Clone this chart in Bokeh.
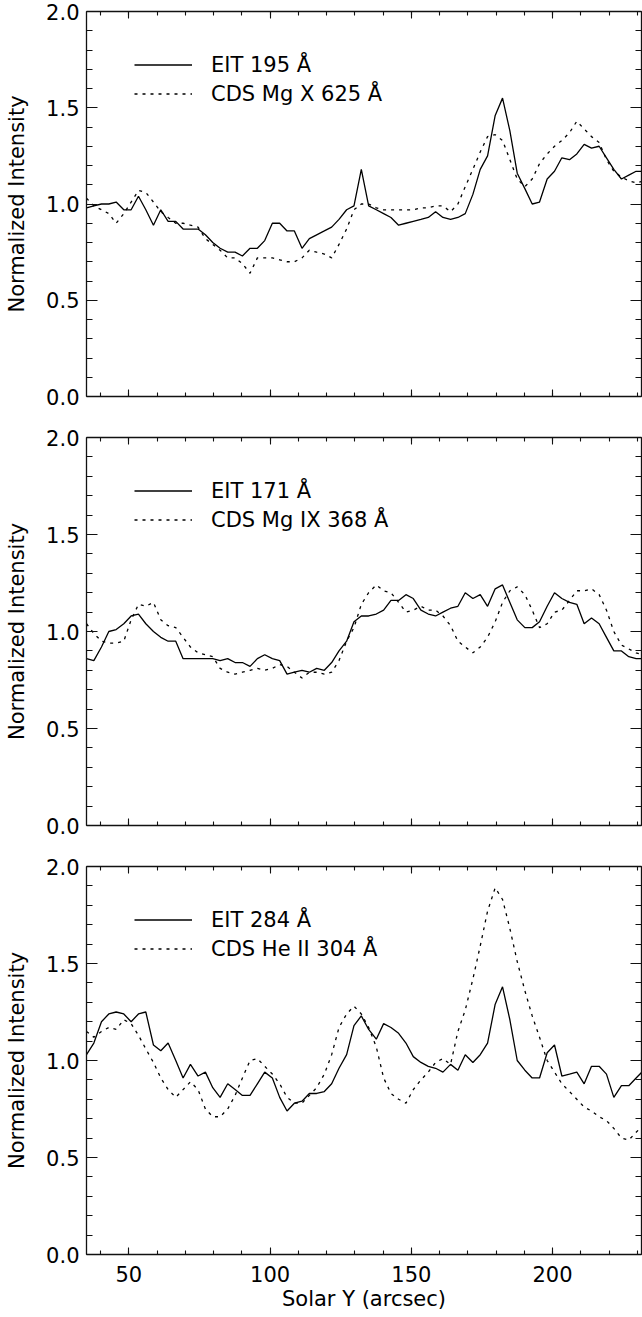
from bokeh.plotting import figure
from bokeh.layouts import column
from bokeh.models import (Range1d, LinearAxis, SingleIntervalTicker, PrintfTickFormatter,
                          Legend, LegendItem)
from bokeh.embed import file_html
from bokeh.resources import INLINE

# Solar Y positions of the cut (arcsec), one per EIT pixel
solar_y = [35.0, 37.6, 40.3, 42.9, 45.5, 48.2, 50.8, 53.4, 56.0, 58.7,
           61.3, 63.9, 66.6, 69.2, 71.8, 74.5, 77.1, 79.7, 82.3, 85.0,
           87.6, 90.2, 92.9, 95.5, 98.1, 100.8, 103.4, 106.0, 108.6, 111.3,
           113.9, 116.5, 119.2, 121.8, 124.4, 127.1, 129.7, 132.3, 134.9, 137.6,
           140.2, 142.8, 145.5, 148.1, 150.7, 153.4, 156.0, 158.6, 161.2, 163.9,
           166.5, 169.1, 171.8, 174.4, 177.0, 179.7, 182.3, 184.9, 187.5, 190.2,
           192.8, 195.4, 198.1, 200.7, 203.3, 206.0, 208.6, 211.2, 213.8, 216.5,
           219.1, 221.7, 224.4, 227.0, 229.6, 232.3]

# Panel 1: EIT 195 vs CDS Mg X 625
eit_195 = [0.98, 0.99, 1.00, 1.00, 1.01, 0.97, 0.97, 1.04, 0.97, 0.89,
           0.97, 0.91, 0.91, 0.87, 0.87, 0.87, 0.84, 0.80, 0.77, 0.75,
           0.75, 0.73, 0.77, 0.77, 0.81, 0.90, 0.90, 0.86, 0.86, 0.77,
           0.82, 0.84, 0.86, 0.88, 0.92, 0.97, 0.99, 1.18, 0.99, 0.97,
           0.95, 0.93, 0.89, 0.90, 0.91, 0.92, 0.93, 0.96, 0.93, 0.92,
           0.93, 0.95, 1.05, 1.18, 1.25, 1.46, 1.55, 1.38, 1.16, 1.08,
           1.00, 1.01, 1.13, 1.17, 1.24, 1.23, 1.26, 1.31, 1.29, 1.30,
           1.24, 1.18, 1.13, 1.15, 1.17, 1.17]
cds_mg10 = [1.03, 0.99, 0.97, 0.95, 0.90, 0.95, 1.01, 1.07, 1.06, 1.01,
            0.96, 0.93, 0.90, 0.90, 0.89, 0.88, 0.82, 0.79, 0.76, 0.72,
            0.72, 0.69, 0.64, 0.72, 0.72, 0.72, 0.71, 0.70, 0.70, 0.72,
            0.76, 0.75, 0.74, 0.72, 0.79, 0.87, 0.97, 1.00, 1.00, 0.98,
            0.97, 0.97, 0.97, 0.97, 0.97, 0.98, 0.98, 0.99, 0.99, 0.96,
            1.00, 1.09, 1.18, 1.27, 1.35, 1.36, 1.33, 1.23, 1.13, 1.09,
            1.13, 1.21, 1.26, 1.30, 1.33, 1.37, 1.43, 1.39, 1.35, 1.32,
            1.23, 1.17, 1.14, 1.12, 1.11, 1.12]

# Panel 2: EIT 171 vs CDS Mg IX 368
eit_171 = [0.86, 0.85, 0.92, 1.00, 1.01, 1.04, 1.08, 1.09, 1.04, 1.00,
           0.97, 0.95, 0.95, 0.86, 0.86, 0.86, 0.86, 0.86, 0.85, 0.86,
           0.84, 0.84, 0.82, 0.86, 0.88, 0.86, 0.85, 0.78, 0.79, 0.80,
           0.79, 0.81, 0.80, 0.84, 0.90, 0.95, 1.05, 1.08, 1.08, 1.09,
           1.11, 1.16, 1.16, 1.19, 1.17, 1.11, 1.09, 1.08, 1.10, 1.12,
           1.13, 1.20, 1.17, 1.19, 1.13, 1.22, 1.24, 1.15, 1.06, 1.02,
           1.02, 1.05, 1.13, 1.20, 1.17, 1.15, 1.14, 1.04, 1.07, 1.04,
           0.97, 0.90, 0.90, 0.87, 0.86, 0.86]
cds_mg9 = [1.04, 0.99, 0.95, 0.94, 0.94, 0.95, 1.06, 1.14, 1.13, 1.15,
           1.06, 1.03, 1.02, 0.97, 0.92, 0.89, 0.88, 0.87, 0.81, 0.79,
           0.78, 0.79, 0.80, 0.81, 0.80, 0.81, 0.83, 0.82, 0.79, 0.76,
           0.79, 0.79, 0.78, 0.79, 0.85, 0.95, 1.02, 1.14, 1.20, 1.24,
           1.21, 1.20, 1.15, 1.10, 1.11, 1.13, 1.11, 1.11, 1.08, 1.03,
           0.95, 0.92, 0.89, 0.92, 0.97, 1.05, 1.15, 1.21, 1.23, 1.19,
           1.11, 1.02, 1.04, 1.10, 1.11, 1.16, 1.21, 1.21, 1.22, 1.19,
           1.11, 1.00, 0.93, 0.91, 0.89, 0.88]

# Panel 3: EIT 284 vs CDS He II 304
eit_284 = [1.03, 1.09, 1.20, 1.24, 1.25, 1.24, 1.20, 1.24, 1.25, 1.08,
           1.05, 1.09, 1.00, 0.91, 0.98, 0.92, 0.94, 0.86, 0.81, 0.88,
           0.85, 0.82, 0.82, 0.88, 0.94, 0.91, 0.81, 0.74, 0.78, 0.79,
           0.83, 0.83, 0.84, 0.88, 0.96, 1.03, 1.18, 1.23, 1.16, 1.11,
           1.19, 1.17, 1.14, 1.09, 1.02, 0.99, 0.97, 0.96, 0.94, 0.98,
           0.95, 1.03, 0.99, 1.03, 1.09, 1.29, 1.38, 1.21, 1.00, 0.95,
           0.91, 0.91, 1.04, 1.08, 0.92, 0.93, 0.94, 0.88, 0.97, 0.97,
           0.93, 0.81, 0.87, 0.87, 0.91, 0.95]
cds_he2 = [1.15, 1.12, 1.15, 1.17, 1.16, 1.21, 1.19, 1.13, 1.06, 0.99,
           0.91, 0.85, 0.81, 0.85, 0.89, 0.85, 0.75, 0.71, 0.71, 0.75,
           0.82, 0.91, 1.00, 1.01, 0.97, 0.93, 0.88, 0.81, 0.78, 0.78,
           0.82, 0.86, 0.93, 1.03, 1.17, 1.24, 1.28, 1.24, 1.17, 1.07,
           0.91, 0.83, 0.80, 0.78, 0.85, 0.90, 0.94, 0.99, 1.01, 0.98,
           1.15, 1.26, 1.42, 1.59, 1.77, 1.89, 1.83, 1.68, 1.51, 1.36,
           1.23, 1.12, 1.00, 0.94, 0.88, 0.84, 0.80, 0.76, 0.74, 0.71,
           0.69, 0.65, 0.60, 0.59, 0.63, 0.67]

panels = [
    (eit_195, cds_mg10, "EIT 195 Å", "CDS Mg X 625 Å"),
    (eit_171, cds_mg9, "EIT 171 Å", "CDS Mg IX 368 Å"),
    (eit_284, cds_he2, "EIT 284 Å", "CDS He II 304 Å"),
]

FONT = "DejaVu Sans"
FSIZE = "21px"
INK = "#111111"


def style_axis(ax, tick_in, minor_in, labels):
    ax.axis_line_color = INK
    ax.axis_line_width = 1.3
    ax.major_tick_line_color = INK
    ax.minor_tick_line_color = INK
    ax.major_tick_line_width = 1.1
    ax.minor_tick_line_width = 1.1
    ax.major_tick_in = tick_in
    ax.major_tick_out = 0
    ax.minor_tick_in = minor_in
    ax.minor_tick_out = 0
    if labels:
        ax.major_label_text_font = FONT
        ax.major_label_text_font_size = FSIZE
        ax.major_label_text_color = "black"
    else:
        # tick marks only: labels are not drawn at all
        ax.major_label_text_color = None
        ax.major_label_standoff = 0


def x_ticker():
    return SingleIntervalTicker(interval=50, num_minor_ticks=5)


def y_ticker():
    return SingleIntervalTicker(interval=0.5, num_minor_ticks=5)


def make_panel(solid, dotted, solid_name, dotted_name, frame_h, top_border,
               bottom_border, last):
    p = figure(frame_width=555, frame_height=frame_h,
               x_range=Range1d(35, 231.5), y_range=Range1d(0, 2),
               x_axis_type=None, y_axis_type=None,
               min_border_left=86, min_border_right=1,
               min_border_top=top_border, min_border_bottom=bottom_border,
               output_backend="svg", toolbar_location=None)
    p.outline_line_color = None
    p.background_fill_color = "white"
    p.border_fill_color = "white"

    r1 = p.line(solar_y, solid, line_color="black", line_width=1.3)
    r2 = p.line(solar_y, dotted, line_color="black", line_width=1.3, line_dash="3 5")

    # bottom axis
    bottom = LinearAxis(ticker=x_ticker())
    style_axis(bottom, 7, 4, last)
    if last:
        bottom.major_label_standoff = 11
        bottom.axis_label = "Solar Y (arcsec)"
        bottom.axis_label_text_font = FONT
        bottom.axis_label_text_font_size = FSIZE
        bottom.axis_label_text_font_style = "normal"
        bottom.axis_label_text_color = "black"
        bottom.axis_label_standoff = 2
    p.add_layout(bottom, "below")

    # top axis, ticks only
    top = LinearAxis(ticker=x_ticker())
    style_axis(top, 7, 4, False)
    p.add_layout(top, "above")

    # left axis with the intensity scale
    left = LinearAxis(ticker=y_ticker(), formatter=PrintfTickFormatter(format="%.1f"))
    style_axis(left, 11, 6, True)
    left.major_label_standoff = 7
    left.axis_label = "Normalized Intensity"
    left.axis_label_text_font = FONT
    left.axis_label_text_font_size = FSIZE
    left.axis_label_text_font_style = "normal"
    left.axis_label_text_color = "black"
    left.axis_label_standoff = 14
    p.add_layout(left, "left")

    # right axis, ticks only
    right = LinearAxis(ticker=y_ticker())
    style_axis(right, 11, 6, False)
    p.add_layout(right, "right")

    legend = Legend(items=[LegendItem(label=solid_name, renderers=[r1]),
                           LegendItem(label=dotted_name, renderers=[r2])],
                    location=(48, frame_h - 97), orientation="vertical",
                    border_line_color=None, background_fill_alpha=0,
                    padding=0, margin=0, spacing=0,
                    glyph_width=58, glyph_height=29, label_height=29,
                    label_standoff=19, label_text_font=FONT,
                    label_text_font_size=FSIZE, label_text_color="black")
    p.add_layout(legend)
    return p


# (frame height, top border, bottom border) for each stacked panel
geometry = [(385, 11, 19), (388, 22, 20), (388, 21, 63)]
figs = []
for k, (solid, dotted, sname, dname) in enumerate(panels):
    fh, tb, bb = geometry[k]
    figs.append(make_panel(solid, dotted, sname, dname, fh, tb, bb, k == len(panels) - 1))

layout = column(*figs, spacing=0)
open("out.html", "w").write(file_html(layout, INLINE))
